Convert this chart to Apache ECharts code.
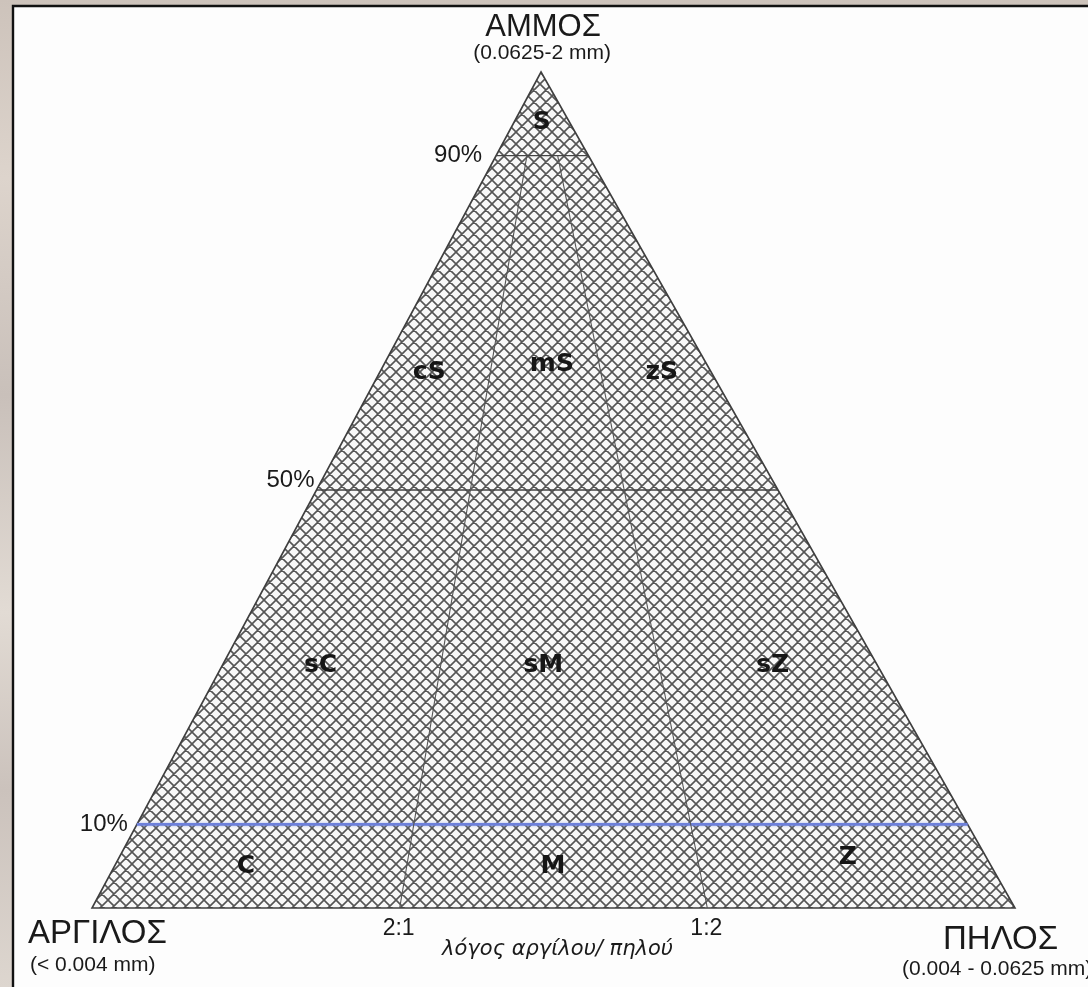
<!DOCTYPE html>
<html>
<head>
<meta charset="utf-8">
<title>Ταξινόμηση ιζημάτων: άμμος – πηλός – άργιλος</title>
<script src="https://cdn.jsdelivr.net/npm/echarts@6/dist/echarts.min.js"></script>
<style>
  html, body { margin: 0; padding: 0; }
  body {
    width: 1088px; height: 987px; overflow: hidden;
    background: linear-gradient(180deg, #cdc3bb 0%, #ddd4cc 18%, #c9c0ba 40%, #e2dbd4 62%, #cbc2bc 80%, #ddd6cf 100%);
  }
  #chart { position: absolute; left: 0; top: 0; width: 1088px; height: 987px; }
</style>
</head>
<body>
<div id="chart"></div>
<script>
// ---- data -------------------------------------------------------------
// End members of the ternary diagram (apex, lower left, lower right)
const vertexNames  = ['ΑΜΜΟΣ', 'ΑΡΓΙΛΟΣ', 'ΠΗΛΟΣ'];
const vertexRanges = ['(0.0625-2 mm)', '(< 0.004 mm)', '(0.004 - 0.0625 mm)'];

// Sand-content class boundaries (%) and their tick labels
const sandLevels     = [90, 50, 10];
const sandTickLabels = ['90%', '50%', '10%'];

// Clay : silt ratio boundaries and their labels
const ratioClaySilt = [[2, 1], [1, 2]];
const ratioLabels   = ['2:1', '1:2'];
const ratioTitle    = 'λόγος αργίλου/ πηλού';

// Textural classes: sand % and silt share of the mud fraction (%) at label position
const classNames      = ['S', 'cS', 'mS', 'zS', 'sC', 'sM', 'sZ', 'C', 'M', 'Z'];
const classSand       = [94, 64, 65, 64, 29, 29, 29, 5, 5, 6];
const classSiltShare  = [50, 15, 52, 85, 15, 49, 84, 15, 50, 84];

// ---- geometry helpers -------------------------------------------------
// Horizontal position of the sand apex along the base (fraction of base)
const APEX_X = 0.4865;
// (sand %, silt share of mud %) -> cartesian [x, y] in the unit frame
function tern(sandPct, siltSharePct) {
  const s = sandPct / 100;
  const z = (1 - s) * siltSharePct / 100;
  return [z + APEX_X * s, s];
}
const siltShareOf = r => r[1] / (r[0] + r[1]) * 100;

// crosshatch tile used to fill the diagram
function hatchTile() {
  const n = 12;
  const c = document.createElement('canvas');
  c.width = n; c.height = n;
  const g = c.getContext('2d');
  g.fillStyle = '#f8f8f8';
  g.fillRect(0, 0, n, n);
  g.strokeStyle = '#555555';
  g.lineWidth = 1.6;
  g.beginPath();
  for (let k = -1; k <= 1; k++) {
    g.moveTo(-2, -2 + k * n); g.lineTo(n + 2, n + 2 + k * n);
    g.moveTo(n + 2, -2 + k * n); g.lineTo(-2, n + 2 + k * n);
  }
  g.stroke();
  return c;
}
const hatch = { image: hatchTile(), repeat: 'repeat' };

// ---- series -----------------------------------------------------------
const series = [];

// hatched triangle with outline
series.push({
  type: 'custom', clip: false, z: 1, silent: true,
  data: [[0, 0]],
  renderItem: (params, api) => {
    const pts = [tern(100, 50), tern(0, 0), tern(0, 100)].map(p => api.coord(p));
    return {
      type: 'polygon',
      shape: { points: pts },
      style: { fill: hatch, stroke: '#3f3f3f', lineWidth: 1.6 }
    };
  }
});

// sand-content boundaries (the lowest one drawn in blue)
sandLevels.forEach((lvl, i) => {
  const last = i === sandLevels.length - 1;
  series.push({
    type: 'line', z: 3, silent: true, symbol: 'none',
    data: [tern(lvl, 0), tern(lvl, 100)],
    lineStyle: last
      ? { color: '#6d80da', width: 2.8, shadowColor: 'rgba(120,140,230,0.55)', shadowBlur: 3 }
      : { color: '#444', width: 1.3 }
  });
});

// clay:silt ratio boundaries, from the 90% sand line down to the base
ratioClaySilt.forEach(r => {
  const share = siltShareOf(r);
  series.push({
    type: 'line', z: 3, silent: true, symbol: 'none',
    data: [tern(sandLevels[0], share), tern(0, share)],
    lineStyle: { color: '#555', width: 1.1 }
  });
});

// textural class labels
series.push({
  type: 'custom', clip: false, z: 5, silent: true,
  data: classSand.map((s, i) => tern(s, classSiltShare[i])),
  renderItem: (params, api) => {
    const p = api.coord([api.value(0), api.value(1)]);
    return {
      type: 'text', x: p[0], y: p[1],
      style: {
        text: classNames[params.dataIndex],
        font: 'bold 25px "DejaVu Sans", sans-serif',
        fill: '#161616', textAlign: 'center', textVerticalAlign: 'middle'
      }
    };
  }
});

// sand tick labels on the left edge
const tickShift = [[-14, 0], [-2, -10], [-9, 0]];
series.push({
  type: 'custom', clip: false, z: 5, silent: true,
  data: sandLevels.map(l => tern(l, 0)),
  renderItem: (params, api) => {
    const p = api.coord([api.value(0), api.value(1)]);
    const d = tickShift[params.dataIndex];
    return {
      type: 'text', x: p[0] + d[0], y: p[1] + d[1],
      style: {
        text: sandTickLabels[params.dataIndex],
        font: '24px "Liberation Sans", sans-serif',
        fill: '#1a1a1a', textAlign: 'right', textVerticalAlign: 'middle'
      }
    };
  }
});

// ratio labels under the base and the ratio caption
series.push({
  type: 'custom', clip: false, z: 5, silent: true,
  data: ratioClaySilt.map(r => tern(0, siltShareOf(r))),
  renderItem: (params, api) => {
    const p = api.coord([api.value(0), api.value(1)]);
    return {
      type: 'text', x: p[0] - 1, y: p[1] + 21,
      style: {
        text: ratioLabels[params.dataIndex],
        font: '23px "Liberation Sans", sans-serif',
        fill: '#1a1a1a', textAlign: 'center', textVerticalAlign: 'middle'
      }
    };
  }
});
series.push({
  type: 'custom', clip: false, z: 5, silent: true,
  data: [tern(0, 50)],
  renderItem: (params, api) => {
    const p = api.coord([api.value(0), api.value(1)]);
    return {
      type: 'text', x: p[0] + 4, y: p[1] + 42,
      style: {
        text: ratioTitle,
        font: 'italic 21px "DejaVu Sans", sans-serif',
        fill: '#1a1a1a', textAlign: 'center', textVerticalAlign: 'middle'
      }
    };
  }
});

// end-member titles with grain-size ranges
const vertexPos = [tern(100, 50), tern(0, 0), tern(0, 100)];
series.push({
  type: 'custom', clip: false, z: 5, silent: true,
  data: vertexPos,
  renderItem: (params, api) => {
    const p = api.coord([api.value(0), api.value(1)]);
    const i = params.dataIndex;
    let tx, ty, sx, sy, align, fs;
    if (i === 0) { tx = p[0] + 2; ty = p[1] - 45; sx = p[0] + 1; sy = p[1] - 19; align = 'center'; fs = 31; }
    else if (i === 1) { tx = p[0] - 64; ty = p[1] + 26; sx = p[0] - 62; sy = p[1] + 57; align = 'left'; fs = 33; }
    else { tx = p[0] - 72; ty = p[1] + 32; sx = p[0] - 113; sy = p[1] + 61; align = 'left'; fs = 33; }
    return {
      type: 'group',
      children: [
        { type: 'text', x: tx, y: ty, style: {
            text: vertexNames[i], font: fs + 'px "Liberation Sans", sans-serif',
            fill: '#1a1a1a', textAlign: align, textVerticalAlign: 'middle' } },
        { type: 'text', x: sx, y: sy, style: {
            text: vertexRanges[i], font: '21px "Liberation Sans", sans-serif',
            fill: '#1a1a1a', textAlign: align, textVerticalAlign: 'middle' } }
      ]
    };
  }
});

// ---- chart ------------------------------------------------------------
const chart = echarts.init(document.getElementById('chart'), null, { renderer: 'canvas' });
chart.setOption({
  backgroundColor: 'transparent',
  animation: false,
  graphic: [{
    type: 'rect', z: -10, silent: true,
    shape: { x: 13, y: 6, width: 1100, height: 1010 },
    style: { fill: '#fdfdfd', stroke: '#111', lineWidth: 2.4 }
  }],
  grid: { left: 92, top: 72, width: 923, height: 836 },
  xAxis: { type: 'value', min: 0, max: 1, show: false },
  yAxis: { type: 'value', min: 0, max: 1, show: false },
  series: series
});
</script>
</body>
</html>
